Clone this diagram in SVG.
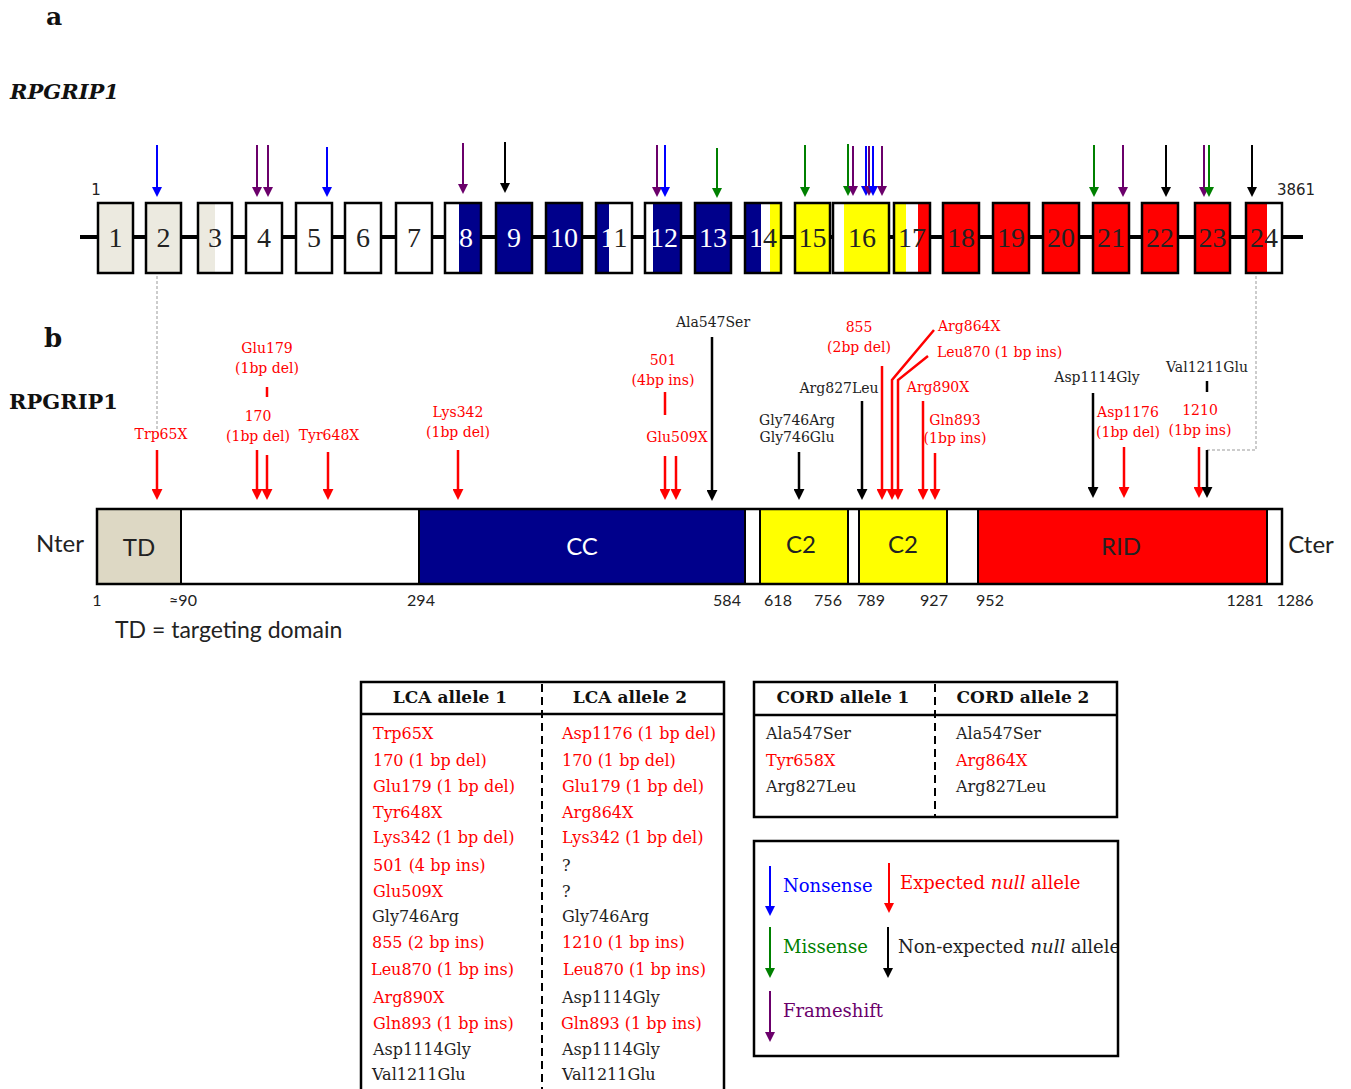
<svg xmlns="http://www.w3.org/2000/svg" width="1351" height="1089" viewBox="0 0 1351 1089">
<style>
.ser{font-family:"DejaVu Serif","Liberation Serif",serif}
.sans{font-family:Lato,"Liberation Sans",sans-serif}
.ex{font-family:"Liberation Serif",serif;font-size:28px;text-anchor:middle}
.exbox{fill:none;stroke:#000;stroke-width:2.5}
.lab{font-family:"DejaVu Serif",serif;font-size:14px}
.mid{text-anchor:middle}
.r{fill:#FF0000}
.k{fill:#222}
.tb{font-family:"DejaVu Serif",serif;font-size:16px}
.th{font-family:"DejaVu Serif",serif;font-size:17px;font-weight:bold;text-anchor:middle;fill:#111}
.num{font-family:Lato,"Liberation Sans",sans-serif;font-size:16px;text-anchor:middle;fill:#222}
.dash{fill:none;stroke:#999;stroke-width:1;stroke-dasharray:3 2}
</style>
<defs>
<marker id="mb" viewBox="0 0 10 10" refX="1" refY="5" markerWidth="10" markerHeight="10" markerUnits="userSpaceOnUse" orient="auto"><path d="M0,0L10,5L0,10z" fill="#0000FF"/></marker>
<marker id="mp" viewBox="0 0 10 10" refX="1" refY="5" markerWidth="10" markerHeight="10" markerUnits="userSpaceOnUse" orient="auto"><path d="M0,0L10,5L0,10z" fill="#6B006B"/></marker>
<marker id="mg" viewBox="0 0 10 10" refX="1" refY="5" markerWidth="10" markerHeight="10" markerUnits="userSpaceOnUse" orient="auto"><path d="M0,0L10,5L0,10z" fill="#008000"/></marker>
<marker id="mk" viewBox="0 0 10 10" refX="1" refY="5" markerWidth="10" markerHeight="10" markerUnits="userSpaceOnUse" orient="auto"><path d="M0,0L10,5L0,10z" fill="#000"/></marker>
<marker id="mr" viewBox="0 0 10 10" refX="1" refY="5" markerWidth="10" markerHeight="10" markerUnits="userSpaceOnUse" orient="auto"><path d="M0,0L10,5L0,10z" fill="#FF0000"/></marker>
<marker id="mR" viewBox="0 0 10 10" refX="1" refY="5" markerWidth="11" markerHeight="11" markerUnits="userSpaceOnUse" orient="auto"><path d="M0,0L10,5L0,10z" fill="#FF0000"/></marker>
<marker id="mK" viewBox="0 0 10 10" refX="1" refY="5" markerWidth="11" markerHeight="11" markerUnits="userSpaceOnUse" orient="auto"><path d="M0,0L10,5L0,10z" fill="#000"/></marker>
<clipPath id="legclip"><rect x="754" y="841" width="364" height="216"/></clipPath>
</defs>

<!-- titles -->
<text x="46" y="25" class="ser" font-size="25" font-weight="bold" fill="#111">a</text>
<text x="10" y="99" class="ser" font-size="21" font-weight="bold" font-style="italic" fill="#111">RPGRIP1</text>
<text x="44" y="347" class="ser" font-size="26" font-weight="bold" fill="#111">b</text>
<text x="9" y="409" class="ser" font-size="21" font-weight="bold" fill="#111">RPGRIP1</text>

<!-- gene backbone -->
<g id="backbone">
<line x1="80" y1="237" x2="1303" y2="237" stroke="#000" stroke-width="4"/>
<text x="96" y="195" font-size="15" text-anchor="middle" fill="#222" style="font-family:'DejaVu Sans',sans-serif">1</text>
<text x="1296" y="195" font-size="15" text-anchor="middle" fill="#222" style="font-family:'DejaVu Sans',sans-serif">3861</text>
</g>

<!-- exons -->
<g id="exon1"><rect x="98" y="203" width="35" height="70" fill="#ECEAE0"/><rect x="98" y="203" width="35" height="70" class="exbox"/><text x="115.5" y="247" class="ex" fill="#222">1</text></g>
<g id="exon2"><rect x="146" y="203" width="35" height="70" fill="#ECEAE0"/><rect x="146" y="203" width="35" height="70" class="exbox"/><text x="163.5" y="247" class="ex" fill="#222">2</text></g>
<g id="exon3"><rect x="198" y="203" width="34" height="70" fill="#fff"/><rect x="198" y="203" width="17" height="70" fill="#ECEAE0"/><rect x="198" y="203" width="34" height="70" class="exbox"/><text x="215" y="247" class="ex" fill="#222">3</text></g>
<g id="exon4"><rect x="246" y="203" width="36" height="70" fill="#fff"/><rect x="246" y="203" width="36" height="70" class="exbox"/><text x="264" y="247" class="ex" fill="#222">4</text></g>
<g id="exon5"><rect x="296" y="203" width="36" height="70" fill="#fff"/><rect x="296" y="203" width="36" height="70" class="exbox"/><text x="314" y="247" class="ex" fill="#222">5</text></g>
<g id="exon6"><rect x="345" y="203" width="36" height="70" fill="#fff"/><rect x="345" y="203" width="36" height="70" class="exbox"/><text x="363" y="247" class="ex" fill="#222">6</text></g>
<g id="exon7"><rect x="396" y="203" width="36" height="70" fill="#fff"/><rect x="396" y="203" width="36" height="70" class="exbox"/><text x="414" y="247" class="ex" fill="#222">7</text></g>
<g id="exon8"><rect x="445" y="203" width="36" height="70" fill="#fff"/><rect x="459" y="203" width="22" height="70" fill="#00008B"/><rect x="445" y="203" width="36" height="70" class="exbox"/><text x="466" y="247" class="ex" fill="#fff">8</text></g>
<g id="exon9"><rect x="496" y="203" width="36" height="70" fill="#00008B"/><rect x="496" y="203" width="36" height="70" class="exbox"/><text x="514" y="247" class="ex" fill="#fff">9</text></g>
<g id="exon10"><rect x="546" y="203" width="36" height="70" fill="#00008B"/><rect x="546" y="203" width="36" height="70" class="exbox"/><text x="564" y="247" class="ex" fill="#fff">10</text></g>
<g id="exon11"><rect x="596" y="203" width="36" height="70" fill="#fff"/><rect x="596" y="203" width="13" height="70" fill="#00008B"/><rect x="596" y="203" width="36" height="70" class="exbox"/><text x="614" y="247" class="ex"><tspan fill="#fff">1</tspan><tspan fill="#222">1</tspan></text></g>
<g id="exon12"><rect x="645" y="203" width="36" height="70" fill="#fff"/><rect x="653" y="203" width="28" height="70" fill="#00008B"/><rect x="645" y="203" width="36" height="70" class="exbox"/><text x="664" y="247" class="ex" fill="#fff">12</text></g>
<g id="exon13"><rect x="695" y="203" width="36" height="70" fill="#00008B"/><rect x="695" y="203" width="36" height="70" class="exbox"/><text x="713" y="247" class="ex" fill="#fff">13</text></g>
<g id="exon14"><rect x="745" y="203" width="36" height="70" fill="#fff"/><rect x="745" y="203" width="16" height="70" fill="#00008B"/><rect x="770" y="203" width="11" height="70" fill="#FFFF00"/><rect x="745" y="203" width="36" height="70" class="exbox"/><text x="763" y="247" class="ex"><tspan fill="#fff">1</tspan><tspan fill="#222">4</tspan></text></g>
<g id="exon15"><rect x="795" y="203" width="35" height="70" fill="#FFFF00"/><rect x="795" y="203" width="35" height="70" class="exbox"/><text x="812.5" y="247" class="ex" fill="#222">15</text></g>
<g id="exon16"><rect x="833" y="203" width="56" height="70" fill="#fff"/><rect x="844" y="203" width="45" height="70" fill="#FFFF00"/><rect x="833" y="203" width="56" height="70" class="exbox"/><text x="862" y="247" class="ex" fill="#222">16</text></g>
<g id="exon17"><rect x="894" y="203" width="36" height="70" fill="#fff"/><rect x="894" y="203" width="12" height="70" fill="#FFFF00"/><rect x="918" y="203" width="12" height="70" fill="#FF0000"/><rect x="894" y="203" width="36" height="70" class="exbox"/><text x="912" y="247" class="ex" fill="#222">17</text></g>
<g id="exon18"><rect x="943" y="203" width="36" height="70" fill="#FF0000"/><rect x="943" y="203" width="36" height="70" class="exbox"/><text x="961" y="247" class="ex" fill="#222">18</text></g>
<g id="exon19"><rect x="993" y="203" width="36" height="70" fill="#FF0000"/><rect x="993" y="203" width="36" height="70" class="exbox"/><text x="1011" y="247" class="ex" fill="#222">19</text></g>
<g id="exon20"><rect x="1043" y="203" width="36" height="70" fill="#FF0000"/><rect x="1043" y="203" width="36" height="70" class="exbox"/><text x="1061" y="247" class="ex" fill="#222">20</text></g>
<g id="exon21"><rect x="1093" y="203" width="36" height="70" fill="#FF0000"/><rect x="1093" y="203" width="36" height="70" class="exbox"/><text x="1111" y="247" class="ex" fill="#222">21</text></g>
<g id="exon22"><rect x="1142" y="203" width="36" height="70" fill="#FF0000"/><rect x="1142" y="203" width="36" height="70" class="exbox"/><text x="1160" y="247" class="ex" fill="#222">22</text></g>
<g id="exon23"><rect x="1195" y="203" width="35" height="70" fill="#FF0000"/><rect x="1195" y="203" width="35" height="70" class="exbox"/><text x="1212.5" y="247" class="ex" fill="#222">23</text></g>
<g id="exon24"><rect x="1246" y="203" width="36" height="70" fill="#fff"/><rect x="1246" y="203" width="21" height="70" fill="#FF0000"/><rect x="1246" y="203" width="36" height="70" class="exbox"/><text x="1264" y="247" class="ex" fill="#222">24</text></g>

<!-- connectors -->
<g id="connectors" fill="none">
<g stroke-width="2">
<line x1="157" y1="145" x2="157" y2="188" stroke="#0000FF" marker-end="url(#mb)"/>
<line x1="257" y1="145" x2="257" y2="188" stroke="#6B006B" marker-end="url(#mp)"/>
<line x1="268" y1="145" x2="268" y2="188" stroke="#6B006B" marker-end="url(#mp)"/>
<line x1="327" y1="147" x2="327" y2="188" stroke="#0000FF" marker-end="url(#mb)"/>
<line x1="463" y1="143" x2="463" y2="185" stroke="#6B006B" marker-end="url(#mp)"/>
<line x1="505" y1="142" x2="505" y2="184" stroke="#000" marker-end="url(#mk)"/>
<line x1="657" y1="145" x2="657" y2="188" stroke="#6B006B" marker-end="url(#mp)"/>
<line x1="665" y1="145" x2="665" y2="188" stroke="#0000FF" marker-end="url(#mb)"/>
<line x1="717" y1="148" x2="717" y2="189" stroke="#008000" marker-end="url(#mg)"/>
<line x1="805" y1="145" x2="805" y2="188" stroke="#008000" marker-end="url(#mg)"/>
<line x1="848" y1="144" x2="848" y2="187" stroke="#008000" marker-end="url(#mg)"/>
<line x1="853" y1="146" x2="853" y2="187" stroke="#6B006B" marker-end="url(#mp)"/>
<line x1="866" y1="146" x2="866" y2="187" stroke="#0000FF" marker-end="url(#mb)"/>
<line x1="869" y1="146" x2="869" y2="187" stroke="#6B006B" marker-end="url(#mp)"/>
<line x1="873" y1="146" x2="873" y2="187" stroke="#0000FF" marker-end="url(#mb)"/>
<line x1="882" y1="146" x2="882" y2="187" stroke="#6B006B" marker-end="url(#mp)"/>
<line x1="1094" y1="145" x2="1094" y2="188" stroke="#008000" marker-end="url(#mg)"/>
<line x1="1123" y1="145" x2="1123" y2="188" stroke="#6B006B" marker-end="url(#mp)"/>
<line x1="1166" y1="145" x2="1166" y2="188" stroke="#000" marker-end="url(#mk)"/>
<line x1="1204" y1="145" x2="1204" y2="188" stroke="#6B006B" marker-end="url(#mp)"/>
<line x1="1209" y1="145" x2="1209" y2="188" stroke="#008000" marker-end="url(#mg)"/>
<line x1="1252" y1="145" x2="1252" y2="188" stroke="#000" marker-end="url(#mk)"/>
</g>
<line x1="157" y1="276" x2="157" y2="430" class="dash"/>
<polyline points="1207,450 1256,450 1256,276" class="dash"/>
<g stroke="#FF0000" stroke-width="2.5">
<line x1="267" y1="387" x2="267" y2="397"/>
<line x1="665" y1="392" x2="665" y2="415"/>
<line x1="157" y1="450" x2="157" y2="490" marker-end="url(#mR)"/>
<line x1="257" y1="450" x2="257" y2="490" marker-end="url(#mR)"/>
<line x1="267" y1="455" x2="267" y2="490" marker-end="url(#mR)"/>
<line x1="328" y1="452" x2="328" y2="490" marker-end="url(#mR)"/>
<line x1="458" y1="450" x2="458" y2="490" marker-end="url(#mR)"/>
<line x1="665" y1="456" x2="665" y2="490" marker-end="url(#mR)"/>
<line x1="676" y1="456" x2="676" y2="490" marker-end="url(#mR)"/>
<line x1="882" y1="366" x2="882" y2="490" marker-end="url(#mR)"/>
<polyline points="934,330 892,380 892,490" marker-end="url(#mR)"/>
<polyline points="928,356 898,380 898,490" marker-end="url(#mR)"/>
<line x1="923" y1="401" x2="923" y2="490" marker-end="url(#mR)"/>
<line x1="935" y1="453" x2="935" y2="490" marker-end="url(#mR)"/>
<line x1="1124" y1="447" x2="1124" y2="488" marker-end="url(#mR)"/>
<line x1="1199" y1="447" x2="1199" y2="488" marker-end="url(#mR)"/>
</g>
<g stroke="#000" stroke-width="2.5">
<line x1="1207" y1="381" x2="1207" y2="392"/>
<line x1="712" y1="337" x2="712" y2="491" marker-end="url(#mK)"/>
<line x1="799" y1="452" x2="799" y2="490" marker-end="url(#mK)"/>
<line x1="862" y1="401" x2="862" y2="490" marker-end="url(#mK)"/>
<line x1="1093" y1="393" x2="1093" y2="488" marker-end="url(#mK)"/>
<line x1="1207" y1="450" x2="1207" y2="488" marker-end="url(#mK)"/>
</g>
</g>

<!-- mutation labels -->
<g id="mutation-labels" class="lab">
<text x="161" y="439" class="mid r">Trp65X</text>
<text x="267" y="353" class="mid r">Glu179</text>
<text x="267" y="373" class="mid r">(1bp del)</text>
<text x="258" y="421" class="mid r">170</text>
<text x="258" y="441" class="mid r">(1bp del)</text>
<text x="329" y="440" class="mid r">Tyr648X</text>
<text x="458" y="417" class="mid r">Lys342</text>
<text x="458" y="437" class="mid r">(1bp del)</text>
<text x="663" y="365" class="mid r">501</text>
<text x="663" y="385" class="mid r">(4bp ins)</text>
<text x="677" y="442" class="mid r">Glu509X</text>
<text x="713" y="327" class="mid k">Ala547Ser</text>
<text x="797" y="425" class="mid k">Gly746Arg</text>
<text x="797" y="442" class="mid k">Gly746Glu</text>
<text x="839" y="393" class="mid k">Arg827Leu</text>
<text x="859" y="332" class="mid r">855</text>
<text x="859" y="352" class="mid r">(2bp del)</text>
<text x="938" y="331" class="r">Arg864X</text>
<text x="937" y="357" class="r">Leu870 (1 bp ins)</text>
<text x="938" y="392" class="mid r">Arg890X</text>
<text x="955" y="425" class="mid r">Gln893</text>
<text x="955" y="443" class="mid r">(1bp ins)</text>
<text x="1097" y="382" class="mid k">Asp1114Gly</text>
<text x="1128" y="417" class="mid r">Asp1176</text>
<text x="1128" y="437" class="mid r">(1bp del)</text>
<text x="1207" y="372" class="mid k">Val1211Glu</text>
<text x="1200" y="415" class="mid r">1210</text>
<text x="1200" y="435" class="mid r">(1bp ins)</text>
</g>

<!-- protein domains -->
<g id="protein">
<rect x="97" y="509" width="84" height="75" fill="#DDD8C4"/>
<rect x="419" y="509" width="326" height="75" fill="#00008B"/>
<rect x="760" y="509" width="88" height="75" fill="#FFFF00"/>
<rect x="859" y="509" width="88" height="75" fill="#FFFF00"/>
<rect x="978" y="509" width="289" height="75" fill="#FF0000"/>
<g stroke="#000" stroke-width="2">
<line x1="181" y1="509" x2="181" y2="584"/><line x1="419" y1="509" x2="419" y2="584"/>
<line x1="745" y1="509" x2="745" y2="584"/><line x1="760" y1="509" x2="760" y2="584"/>
<line x1="848" y1="509" x2="848" y2="584"/><line x1="859" y1="509" x2="859" y2="584"/>
<line x1="947" y1="509" x2="947" y2="584"/><line x1="978" y1="509" x2="978" y2="584"/>
<line x1="1267" y1="509" x2="1267" y2="584"/>
</g>
<rect x="97" y="509" width="1185" height="75" fill="none" stroke="#000" stroke-width="2.5"/>
<g class="sans" font-size="24" text-anchor="middle">
<text x="139" y="556" fill="#222">TD</text>
<text x="582" y="555" fill="#fff">CC</text>
<text x="801" y="553" fill="#222">C2</text>
<text x="903" y="553" fill="#222">C2</text>
<text x="1121" y="555" fill="#222">RID</text>
</g>
<text x="60" y="552" class="sans" font-size="24" text-anchor="middle" fill="#222">Nter</text>
<text x="1311" y="553" class="sans" font-size="24" text-anchor="middle" fill="#222">Cter</text>
<g>
<text x="97" y="606" class="num">1</text>
<text x="183" y="606" class="num">≈90</text>
<text x="421" y="606" class="num">294</text>
<text x="727" y="606" class="num">584</text>
<text x="778" y="606" class="num">618</text>
<text x="828" y="606" class="num">756</text>
<text x="871" y="606" class="num">789</text>
<text x="934" y="606" class="num">927</text>
<text x="990" y="606" class="num">952</text>
<text x="1245" y="606" class="num">1281</text>
<text x="1295" y="606" class="num">1286</text>
</g>
<text x="115" y="638" class="sans" font-size="23" fill="#222">TD = targeting domain</text>
</g>

<!-- LCA table -->
<g id="lca-table">
<path d="M361,1095V682H724V1095" fill="none" stroke="#000" stroke-width="2.5"/>
<line x1="361" y1="714" x2="724" y2="714" stroke="#000" stroke-width="2.5"/>
<line x1="542" y1="684" x2="542" y2="1095" stroke="#000" stroke-width="2" stroke-dasharray="8 5"/>
<text x="450" y="703" class="th">LCA allele 1</text>
<text x="630" y="703" class="th">LCA allele 2</text>
<g class="tb">
<text x="373" y="739" class="r">Trp65X</text>
<text x="373" y="766" class="r">170 (1 bp del)</text>
<text x="373" y="792" class="r">Glu179 (1 bp del)</text>
<text x="373" y="818" class="r">Tyr648X</text>
<text x="373" y="843" class="r">Lys342 (1 bp del)</text>
<text x="373" y="871" class="r">501 (4 bp ins)</text>
<text x="373" y="897" class="r">Glu509X</text>
<text x="372" y="922" class="k">Gly746Arg</text>
<text x="372" y="948" class="r">855 (2 bp ins)</text>
<text x="371" y="975" class="r">Leu870 (1 bp ins)</text>
<text x="373" y="1003" class="r">Arg890X</text>
<text x="373" y="1029" class="r">Gln893 (1 bp ins)</text>
<text x="373" y="1055" class="k">Asp1114Gly</text>
<text x="372" y="1080" class="k">Val1211Glu</text>
<text x="562" y="739" class="r">Asp1176 (1 bp del)</text>
<text x="562" y="766" class="r">170 (1 bp del)</text>
<text x="562" y="792" class="r">Glu179 (1 bp del)</text>
<text x="562" y="818" class="r">Arg864X</text>
<text x="562" y="843" class="r">Lys342 (1 bp del)</text>
<text x="562" y="871" class="k">?</text>
<text x="562" y="897" class="k">?</text>
<text x="562" y="922" class="k">Gly746Arg</text>
<text x="562" y="948" class="r">1210 (1 bp ins)</text>
<text x="563" y="975" class="r">Leu870 (1 bp ins)</text>
<text x="562" y="1003" class="k">Asp1114Gly</text>
<text x="561" y="1029" class="r">Gln893 (1 bp ins)</text>
<text x="562" y="1055" class="k">Asp1114Gly</text>
<text x="562" y="1080" class="k">Val1211Glu</text>
</g>
</g>

<!-- CORD table -->
<g id="cord-table">
<rect x="754" y="682" width="363" height="135" fill="none" stroke="#000" stroke-width="2.5"/>
<line x1="754" y1="715" x2="1117" y2="715" stroke="#000" stroke-width="2.5"/>
<line x1="935" y1="684" x2="935" y2="816" stroke="#000" stroke-width="2" stroke-dasharray="8 5"/>
<text x="843" y="703" class="th">CORD allele 1</text>
<text x="1023" y="703" class="th">CORD allele 2</text>
<g class="tb">
<text x="766" y="739" class="k">Ala547Ser</text>
<text x="766" y="766" class="r">Tyr658X</text>
<text x="766" y="792" class="k">Arg827Leu</text>
<text x="956" y="739" class="k">Ala547Ser</text>
<text x="956" y="766" class="r">Arg864X</text>
<text x="956" y="792" class="k">Arg827Leu</text>
</g>
</g>

<!-- legend -->
<g id="legend">
<g stroke-width="2" fill="none">
<line x1="770" y1="866" x2="770" y2="907" stroke="#0000FF" marker-end="url(#mb)"/>
<line x1="889" y1="863" x2="889" y2="904" stroke="#FF0000" marker-end="url(#mr)"/>
<line x1="770" y1="927" x2="770" y2="969" stroke="#008000" marker-end="url(#mg)"/>
<line x1="888" y1="927" x2="888" y2="969" stroke="#000" marker-end="url(#mk)"/>
<line x1="770" y1="991" x2="770" y2="1033" stroke="#6B006B" marker-end="url(#mp)"/>
</g>
<g class="ser" font-size="18">
<text x="783" y="892" fill="#0000FF">Nonsense</text>
<text x="900" y="889" fill="#FF0000">Expected <tspan font-style="italic">null</tspan> allele</text>
<text x="783" y="953" fill="#008000">Missense</text>
<text x="898" y="953" fill="#222" clip-path="url(#legclip)">Non-expected <tspan font-style="italic">null</tspan> allele</text>
<text x="783" y="1017" fill="#6B006B">Frameshift</text>
</g>
<rect x="754" y="841" width="364" height="215" fill="none" stroke="#000" stroke-width="2.5"/>
</g>
</svg>
